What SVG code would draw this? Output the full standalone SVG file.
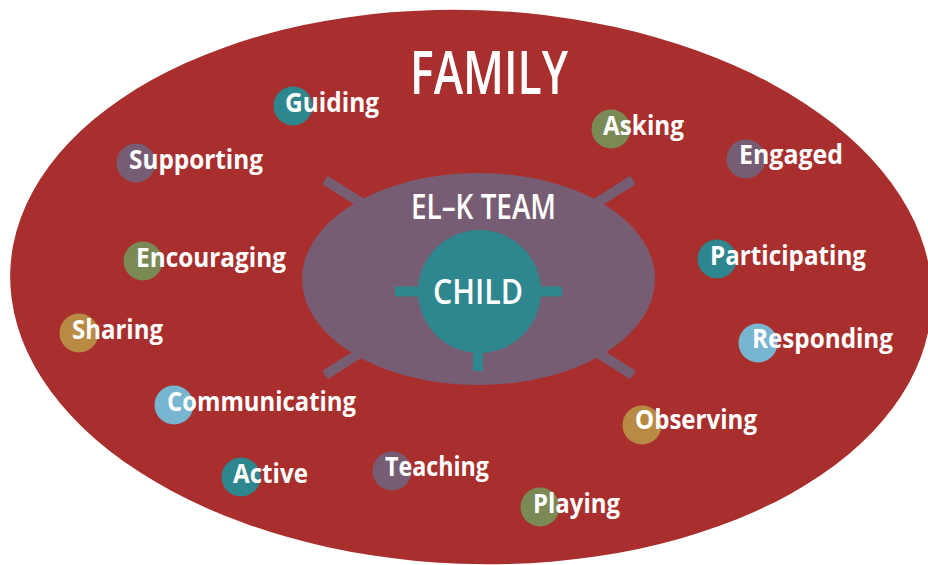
<svg xmlns="http://www.w3.org/2000/svg" width="928" height="565" viewBox="0 0 928 565">
<style>
.lbl{font-family:"Open Sans","Liberation Sans",sans-serif;font-weight:700;font-size:26px;fill:#fff}
.big{font-family:"Open Sans","Liberation Sans",sans-serif;font-weight:600;fill:#fff}
.teal{fill:#2E878E}.purple{fill:#775D74}.green{fill:#7B8A55}.gold{fill:#B98A43}.blue{fill:#78B5D0}
.bar{stroke:#775D74;stroke-width:10;fill:none}
.stub{fill:#2E878E}
</style>
<rect width="928" height="565" fill="#fff"/>
<g id="family">
<ellipse cx="471" cy="287" rx="461" ry="277" fill="#A92E2E" transform="rotate(2 471 287)"/>
<text class="big" x="410" y="94" font-size="60" textLength="158" lengthAdjust="spacingAndGlyphs">FAMILY</text>
</g>
<g id="connectors">
<line class="bar" x1="325" y1="180" x2="633" y2="375"/>
<line class="bar" x1="633" y1="180" x2="325" y2="375"/>
</g>
<g id="elk-team">
<ellipse cx="478.5" cy="279" rx="176.5" ry="106" fill="#775D74"/>
<text class="big" x="411" y="219" font-size="34" textLength="145" lengthAdjust="spacingAndGlyphs">EL–K TEAM</text>
</g>
<g id="child">
<rect class="stub" x="395" y="286.5" width="30" height="10"/>
<rect class="stub" x="535" y="286.5" width="27" height="10"/>
<rect class="stub" x="473" y="345" width="10" height="26"/>
<circle cx="479.5" cy="291.5" r="61.5" fill="#2E878E"/>
<text class="big" x="433" y="304" font-size="35" textLength="90" lengthAdjust="spacingAndGlyphs">CHILD</text>
</g>
<g id="guiding"><circle class="teal" cx="293" cy="106" r="19.5"/><text class="lbl" x="285" y="112" textLength="94" lengthAdjust="spacingAndGlyphs">Guiding</text></g>
<g id="supporting"><circle class="purple" cx="136" cy="163" r="19.5"/><text class="lbl" x="129" y="169" textLength="134" lengthAdjust="spacingAndGlyphs">Supporting</text></g>
<g id="asking"><circle class="green" cx="611" cy="129" r="19.5"/><text class="lbl" x="603" y="135" textLength="81" lengthAdjust="spacingAndGlyphs">Asking</text></g>
<g id="engaged"><circle class="purple" cx="746" cy="159" r="19.5"/><text class="lbl" x="739" y="164" textLength="104" lengthAdjust="spacingAndGlyphs">Engaged</text></g>
<g id="encouraging"><circle class="green" cx="143" cy="261" r="19.5"/><text class="lbl" x="136" y="267" textLength="150" lengthAdjust="spacingAndGlyphs">Encouraging</text></g>
<g id="participating"><circle class="teal" cx="717" cy="259" r="19.5"/><text class="lbl" x="710" y="265" textLength="156" lengthAdjust="spacingAndGlyphs">Participating</text></g>
<g id="sharing"><circle class="gold" cx="79" cy="333" r="19.5"/><text class="lbl" x="72" y="339" textLength="91" lengthAdjust="spacingAndGlyphs">Sharing</text></g>
<g id="responding"><circle class="blue" cx="758" cy="343" r="19.5"/><text class="lbl" x="752" y="348" textLength="141" lengthAdjust="spacingAndGlyphs">Responding</text></g>
<g id="communicating"><circle class="blue" cx="174" cy="405" r="19.5"/><text class="lbl" x="167" y="411" textLength="189" lengthAdjust="spacingAndGlyphs">Communicating</text></g>
<g id="observing"><circle class="gold" cx="642" cy="425" r="19.5"/><text class="lbl" x="635" y="429" textLength="122" lengthAdjust="spacingAndGlyphs">Observing</text></g>
<g id="active"><circle class="teal" cx="241" cy="477" r="19.5"/><text class="lbl" x="233" y="483" textLength="75" lengthAdjust="spacingAndGlyphs">Active</text></g>
<g id="teaching"><circle class="purple" cx="392" cy="471" r="19.5"/><text class="lbl" x="385" y="476" textLength="104" lengthAdjust="spacingAndGlyphs">Teaching</text></g>
<g id="playing"><circle class="green" cx="540" cy="507" r="19.5"/><text class="lbl" x="533" y="513" textLength="87" lengthAdjust="spacingAndGlyphs">Playing</text></g>
</svg>
